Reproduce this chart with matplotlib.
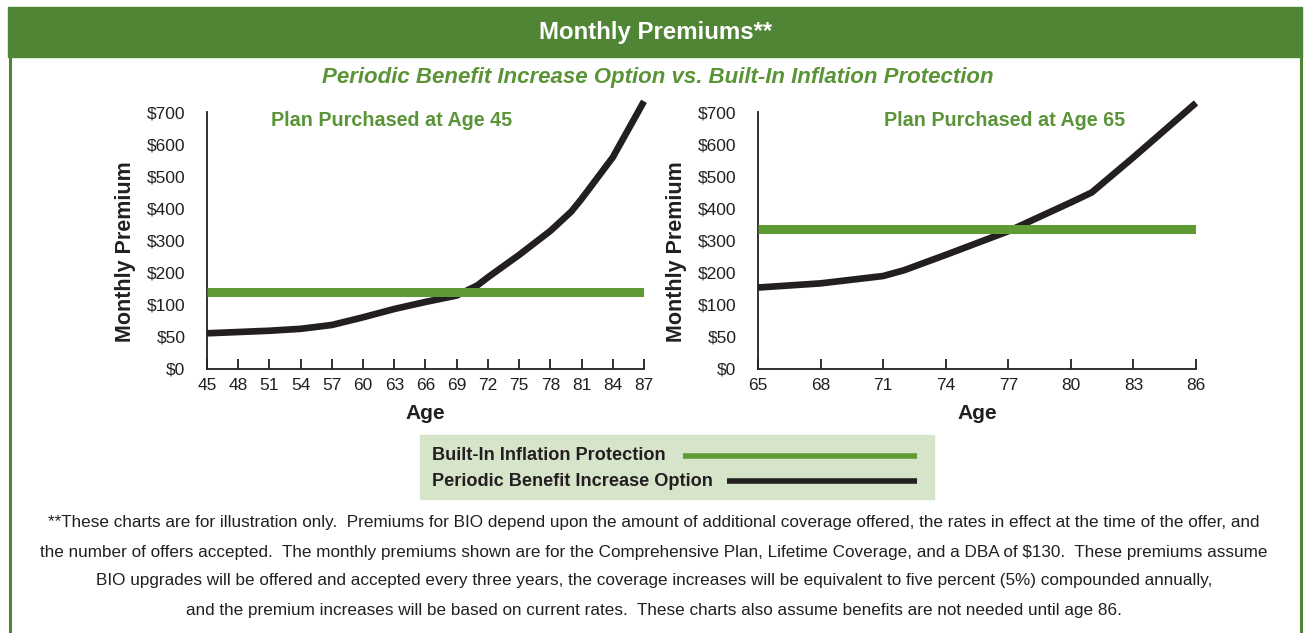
import numpy as np
import matplotlib
matplotlib.use("Agg")
import matplotlib.pyplot as plt
from matplotlib.patches import Rectangle
from matplotlib.lines import Line2D

# ---------------- data ----------------
ytick_values = [0, 50, 100, 200, 300, 400, 500, 600, 700]
ytick_labels = ["$0", "$50", "$100", "$200", "$300", "$400", "$500", "$600", "$700"]

ages_45 = [45, 48, 51, 54, 56, 57, 60, 63, 66, 69, 71, 72, 75, 78, 80, 81, 84, 87]
bio_45 = [55, 57, 59, 62, 66, 68, 80, 93, 108, 128, 160, 185, 255, 330, 390, 430, 560, 735]
bip_45 = 140
xticks_45 = list(range(45, 88, 3))

ages_65 = [65, 68, 71, 72, 74, 77, 80, 81, 83, 86]
bio_65 = [153, 166, 189, 207, 255, 329, 419, 450, 560, 730]
bip_65 = 337
xticks_65 = list(range(65, 87, 3))

title = "Monthly Premiums**"
subtitle = "Periodic Benefit Increase Option vs. Built-In Inflation Protection"
panel_titles = ["Plan Purchased at Age 45", "Plan Purchased at Age 65"]
legend_labels = ["Built-In Inflation Protection", "Periodic Benefit Increase Option"]
footnote = [
    "**These charts are for illustration only.  Premiums for BIO depend upon the amount of additional coverage offered, the rates in effect at the time of the offer, and",
    "the number of offers accepted.  The monthly premiums shown are for the Comprehensive Plan, Lifetime Coverage, and a DBA of $130.  These premiums assume",
    "BIO upgrades will be offered and accepted every three years, the coverage increases will be equivalent to five percent (5%) compounded annually,",
    "and the premium increases will be based on current rates.  These charts also assume benefits are not needed until age 86.",
]

# ---------------- style ----------------
W, H = 1308, 633
GREEN_DARK = "#518536"
GREEN_TXT = "#5a9437"
GREEN_LINE = "#5f9b35"
BLACK = "#231f20"
LEG_BG = "#d6e4c9"
FONT = ["Liberation Sans", "DejaVu Sans"]

# nonlinear (equal-spaced tick) scale
scale_vals = ytick_values + [800, 1000]
scale_idx = list(range(len(ytick_values))) + [9, 11]


def fwd(v):
    return np.interp(v, scale_vals, scale_idx)


def inv(i):
    return np.interp(i, scale_idx, scale_vals)


fig = plt.figure(figsize=(W / 100, H / 100), dpi=100)


def fx(px):
    return px / W


def fy(py):
    return 1 - py / H


# header band and frame
fig.patches.append(Rectangle((fx(8), fy(57)), (1302 - 8) / W, 50 / H,
                             transform=fig.transFigure, color=GREEN_DARK, zorder=0))
for xb in (9.5, 1300.5):
    fig.add_artist(Line2D([fx(xb), fx(xb)], [fy(57), 0], transform=fig.transFigure,
                          color=GREEN_DARK, lw=2.2))

fig.text(fx(656), fy(32), title, color="white", fontsize=17.3, fontweight="bold",
         family=FONT, ha="center", va="center")
fig.text(fx(658), fy(78), subtitle, color=GREEN_TXT, fontsize=16, fontweight="bold",
         style="italic", family=FONT, ha="center", va="center")

y0_px = 368.5
unit = 32.0
top_idx = 8.4


def make_axes(left_px, right_px, ages, bio, bip, xticks, ptitle, tx):
    ax = fig.add_axes([fx(left_px), fy(y0_px), (right_px - left_px) / W, top_idx * unit / H])
    ax.set_yscale("function", functions=(fwd, inv))
    ax.plot(ages, bio, color=BLACK, lw=4.8, solid_capstyle="butt", zorder=3, clip_on=False)
    ax.plot([ages[0], ages[-1]], [bip, bip], color=GREEN_LINE, lw=6.5,
            solid_capstyle="butt", zorder=4)
    ax.set_xlim(ages[0], ages[-1])
    ax.set_ylim(0, inv(top_idx))
    ax.set_yticks(ytick_values)
    ax.set_yticklabels(ytick_labels)
    ax.set_xticks(xticks)
    ax.yaxis.set_minor_locator(matplotlib.ticker.NullLocator())
    for s in ("top", "right"):
        ax.spines[s].set_visible(False)
    ax.spines["left"].set_bounds(0, 700)
    for s in ("left", "bottom"):
        ax.spines[s].set_linewidth(1.3)
        ax.spines[s].set_color(BLACK)
    ax.tick_params(axis="y", length=0, pad=15.5, labelsize=12.5, colors=BLACK)
    ax.tick_params(axis="x", direction="in", length=7, width=1.3, pad=7,
                   labelsize=12.5, colors=BLACK)
    for lab in ax.get_xticklabels() + ax.get_yticklabels():
        lab.set_family(FONT)
    ax.set_xlabel("Age", fontsize=15, fontweight="bold", family=FONT, color=BLACK, labelpad=8)
    ax.set_ylabel("Monthly Premium", fontsize=15.5, fontweight="bold", family=FONT,
                  color=BLACK)
    ax.yaxis.set_label_coords(-71 / (right_px - left_px),
                              (y0_px - 252) / (top_idx * unit))
    ax.patch.set_alpha(0)
    fig.text(fx(tx), fy(121), ptitle, color=GREEN_TXT, fontsize=14.2, fontweight="bold",
             family=FONT, ha="center", va="center")
    return ax


ax1 = make_axes(207, 644, ages_45, bio_45, bip_45, xticks_45, panel_titles[0], 392)
ax2 = make_axes(758, 1196, ages_65, bio_65, bip_65, xticks_65, panel_titles[1], 1005)

# legend box
fig.patches.append(Rectangle((fx(420), fy(499)), (934 - 420) / W, (499 - 435) / H,
                             transform=fig.transFigure, color=LEG_BG, zorder=0))
leg_y = [456, 481]
leg_colors = [GREEN_LINE, BLACK]
leg_start = [683, 727]
for lab, yy, c, xs in zip(legend_labels, leg_y, leg_colors, leg_start):
    fig.text(fx(432), fy(yy), lab, fontsize=13.1, fontweight="bold", family=FONT,
             color=BLACK, ha="left", va="center")
    fig.add_artist(Line2D([fx(xs), fx(917)], [fy(yy), fy(yy)], transform=fig.transFigure,
                          color=c, lw=4, solid_capstyle="butt"))

for line, yy in zip(footnote, [522, 552, 581, 610]):
    fig.text(fx(654), fy(yy), line, fontsize=12.3, family=FONT, color=BLACK,
             ha="center", va="center")

fig.savefig("out.png", dpi=100)
